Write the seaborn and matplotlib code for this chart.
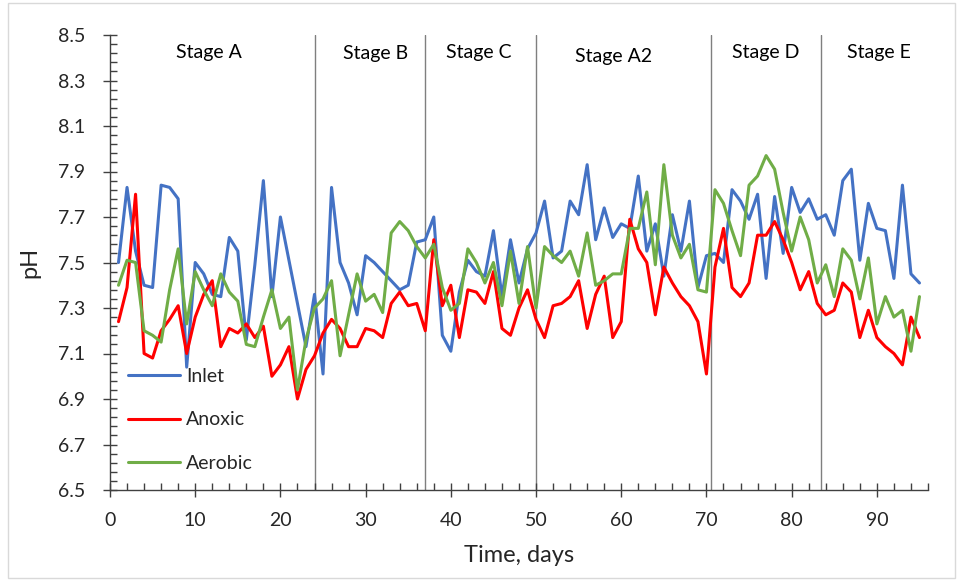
import pandas as pd
import matplotlib.pyplot as plt
import seaborn as sns
from matplotlib.ticker import MultipleLocator
from matplotlib.patches import Rectangle

days = list(range(1, 96))

inlet = [7.50, 7.83, 7.55, 7.40, 7.39, 7.84, 7.83, 7.78, 7.04, 7.50,
         7.45, 7.36, 7.35, 7.61, 7.55, 7.16, 7.49, 7.86, 7.35, 7.70,
         7.51, 7.32, 7.13, 7.36, 7.01, 7.83, 7.50, 7.41, 7.27, 7.53,
         7.50, 7.46, 7.42, 7.38, 7.40, 7.59, 7.60, 7.70, 7.18, 7.11,
         7.37, 7.51, 7.46, 7.44, 7.64, 7.35, 7.60, 7.41, 7.56, 7.63,
         7.77, 7.52, 7.55, 7.77, 7.71, 7.93, 7.60, 7.74, 7.61, 7.67,
         7.65, 7.88, 7.55, 7.67, 7.44, 7.71, 7.55, 7.77, 7.39, 7.53,
         7.54, 7.50, 7.82, 7.77, 7.69, 7.80, 7.43, 7.79, 7.54, 7.83,
         7.72, 7.78, 7.69, 7.71, 7.62, 7.86, 7.91, 7.51, 7.76, 7.65,
         7.64, 7.43, 7.84, 7.45, 7.41]

anoxic = [7.24, 7.39, 7.80, 7.10, 7.08, 7.20, 7.25, 7.31, 7.10, 7.26,
          7.36, 7.42, 7.13, 7.21, 7.19, 7.23, 7.17, 7.22, 7.00, 7.05,
          7.13, 6.90, 7.03, 7.09, 7.19, 7.25, 7.21, 7.13, 7.13, 7.21,
          7.20, 7.17, 7.32, 7.37, 7.31, 7.32, 7.20, 7.60, 7.31, 7.40,
          7.17, 7.38, 7.37, 7.32, 7.46, 7.21, 7.18, 7.30, 7.38, 7.25,
          7.17, 7.31, 7.32, 7.35, 7.42, 7.21, 7.36, 7.44, 7.17, 7.24,
          7.69, 7.56, 7.50, 7.27, 7.48, 7.41, 7.35, 7.31, 7.24, 7.01,
          7.48, 7.65, 7.39, 7.35, 7.41, 7.62, 7.62, 7.68, 7.60, 7.50,
          7.38, 7.46, 7.32, 7.27, 7.29, 7.41, 7.37, 7.17, 7.29, 7.17,
          7.13, 7.10, 7.05, 7.26, 7.17]

aerobic = [7.40, 7.51, 7.50, 7.20, 7.18, 7.15, 7.38, 7.56, 7.23, 7.46,
           7.38, 7.31, 7.45, 7.37, 7.33, 7.14, 7.13, 7.26, 7.38, 7.21,
           7.26, 6.94, 7.16, 7.30, 7.34, 7.42, 7.09, 7.27, 7.45, 7.33,
           7.36, 7.28, 7.63, 7.68, 7.64, 7.57, 7.52, 7.58, 7.39, 7.29,
           7.32, 7.56, 7.50, 7.41, 7.50, 7.31, 7.55, 7.32, 7.57, 7.30,
           7.57, 7.53, 7.50, 7.55, 7.44, 7.63, 7.40, 7.42, 7.45, 7.45,
           7.65, 7.65, 7.81, 7.49, 7.93, 7.62, 7.52, 7.58, 7.38, 7.37,
           7.82, 7.76, 7.64, 7.53, 7.84, 7.88, 7.97, 7.91, 7.72, 7.55,
           7.70, 7.60, 7.41, 7.49, 7.35, 7.56, 7.51, 7.34, 7.52, 7.23,
           7.35, 7.26, 7.29, 7.11, 7.35]

series_names = ["Inlet", "Anoxic", "Aerobic"]
series_colors = ["#4472C4", "#FF0000", "#70AD47"]

stage_bounds = [24, 37, 50, 70.5, 83.5]
stage_labels = ["Stage A", "Stage B", "Stage C", "Stage A2", "Stage D", "Stage E"]
stage_label_x = [11.6, 31.2, 43.3, 59.1, 76.9, 90.3]
stage_label_y = [8.425, 8.42, 8.422, 8.405, 8.422, 8.425]

df = pd.DataFrame({
    "Day": days * 3,
    "pH": inlet + anoxic + aerobic,
    "Series": [n for n in series_names for _ in days],
})

sns.set_style("white")
plt.rcParams["font.family"] = ["Lato", "DejaVu Sans"]

fig = plt.figure(figsize=(9.61, 5.8), dpi=100)
ax = fig.add_axes([110 / 961, 1 - 490 / 580, 818 / 961, 455 / 580])

sns.lineplot(data=df, x="Day", y="pH", hue="Series", hue_order=series_names,
             palette=series_colors, linewidth=2.2, estimator=None, ax=ax)

# stage boundaries and their names
for b in stage_bounds:
    ax.axvline(b, color="#7f7f7f", linewidth=1.0, zorder=0)
for lab, sx, sy in zip(stage_labels, stage_label_x, stage_label_y):
    ax.text(sx, sy, lab, ha="center", va="center", fontsize=14, color="#000000")

ax.set_xlim(0, 96)
ax.set_ylim(6.5, 8.5)
ax.xaxis.set_major_locator(MultipleLocator(10))
ax.xaxis.set_minor_locator(MultipleLocator(2))
ax.yaxis.set_major_locator(MultipleLocator(0.2, offset=0.1))
ax.yaxis.set_minor_locator(MultipleLocator(0.04, offset=0.02))
ax.yaxis.set_major_formatter(plt.FormatStrFormatter("%.1f"))

sns.despine(ax=ax)
for s in ["left", "bottom"]:
    ax.spines[s].set_color("#404040")
    ax.spines[s].set_linewidth(1.0)
ax.tick_params(which="major", direction="inout", length=10, width=1.0,
               color="#404040", labelsize=14, labelcolor="#262626", pad=13)
ax.tick_params(which="minor", direction="in", length=5, width=1.0, color="#404040")
ax.tick_params(axis="x", which="both", bottom=True)
ax.tick_params(axis="y", which="both", left=True)
ax.tick_params(axis="x", which="major", pad=11)

ax.set_xlabel("Time, days", fontsize=17, color="#262626", va="center")
ax.set_ylabel("pH", fontsize=17, color="#262626", va="center")
ax.xaxis.set_label_coords(0.5, -0.143)
ax.yaxis.set_label_coords(-0.098, 0.5)

handles, labels = ax.get_legend_handles_labels()
ax.legend(handles, labels, loc="upper left", bbox_to_anchor=(0.012, 0.285),
          borderaxespad=0, frameon=False, handlelength=2.7, labelspacing=1.35,
          fontsize=14, handletextpad=0.3)

fig.patches.append(Rectangle((0.008, 0.004), 0.986, 0.99, transform=fig.transFigure,
                             fill=False, edgecolor="#d9d9d9", linewidth=1.0))

fig.savefig("out.png", dpi=100)
